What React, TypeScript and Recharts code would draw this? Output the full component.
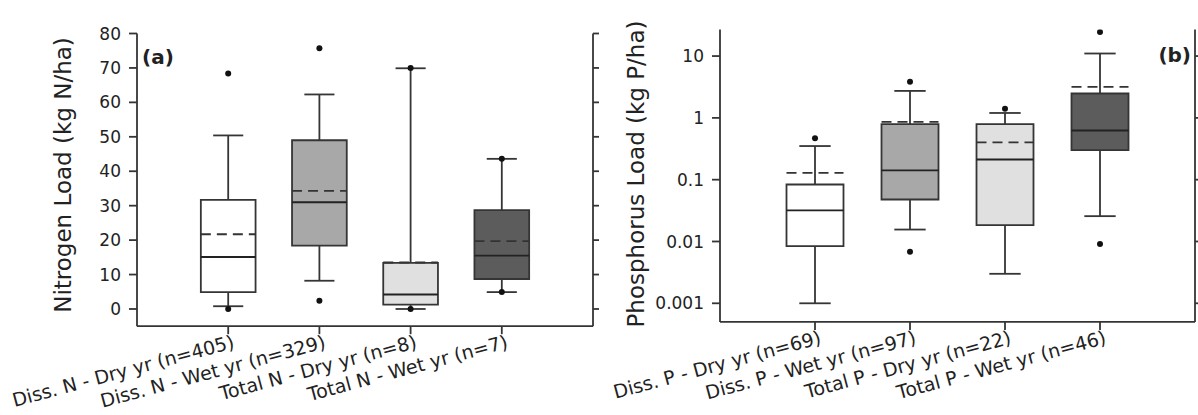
import React from 'react';
import {
  ScatterChart, Scatter, XAxis, YAxis, ReferenceArea, ReferenceLine,
} from 'recharts';

// Panel (a) nitrogen loads, kg N/ha
const nCategories = ['Diss. N - Dry yr (n=405)', 'Diss. N - Wet yr (n=329)', 'Total N - Dry yr (n=8)', 'Total N - Wet yr (n=7)'];
const nLow = [0.8, 8.2, 0, 4.9];
const nQ1 = [4.9, 18.4, 1.25, 8.7];
const nMedian = [15.1, 31.0, 4.2, 15.5];
const nMean = [21.7, 34.3, 13.5, 19.7];
const nQ3 = [31.7, 49.0, 13.4, 28.7];
const nHigh = [50.4, 62.3, 69.9, 43.6];
const nOutliers = [[68.4, 0], [75.7, 2.4], [70, 0], [43.6, 4.9]];
const nTicks = [0, 10, 20, 30, 40, 50, 60, 70, 80];

// Panel (b) phosphorus loads, kg P/ha
const pCategories = ['Diss. P - Dry yr (n=69)', 'Diss. P - Wet yr (n=97)', 'Total P - Dry yr (n=22)', 'Total P - Wet yr (n=46)'];
const pLow = [0.001, 0.0156, 0.003, 0.0257];
const pQ1 = [0.0084, 0.0478, 0.0184, 0.3];
const pMedian = [0.0318, 0.141, 0.212, 0.625];
const pMean = [0.129, 0.86, 0.4, 3.18];
const pQ3 = [0.0836, 0.79, 0.79, 2.48];
const pHigh = [0.35, 2.73, 1.2, 11.0];
const pOutliers = [[0.47], [3.83, 0.0068], [1.4], [24.6, 0.0091]];
const pTicks = [0.001, 0.01, 0.1, 1, 10];

const fills = ['#ffffff', '#a8a8a8', '#e0e0e0', '#5c5c5c'];
const INK = '#353535';
const FONT = 'DejaVu Sans';
const BOX = 0.3;   // half box width, in category units
const CAP = 0.165; // half whisker cap width
const SW = 1.8;

const CatTick = ({ x, y, payload, cats }: any) => {
  const label = cats[Math.round(payload.value) - 1];
  if (!label) return null;
  return (
    <text x={x + 4} y={y + 13} transform={`rotate(-15, ${x}, ${y})`} textAnchor="end"
      fontSize={19} fontFamily={FONT} fill="#222">{label}</text>
  );
};

const Panel = ({ cats, low, q1, med, mean, q3, high, outliers, ticks, domain, log, width, height, margin }: any) => {
  const points: { x: number; y: number }[] = [];
  outliers.forEach((vals: number[], i: number) => vals.forEach(v => points.push({ x: i + 1, y: v })));
  const yProps = log ? { scale: 'log' as const } : {};
  return (
    <ScatterChart width={width} height={height} margin={margin}>
      <XAxis dataKey="x" type="number" domain={[0, 5]} ticks={[1, 2, 3, 4]} interval={0}
        tickSize={8} tickMargin={2} stroke={INK} strokeWidth={SW} height={80}
        tick={<CatTick cats={cats} />} />
      <XAxis xAxisId="top" orientation="top" type="number" domain={[0, 5]} height={0}
        tick={false} tickLine={false} stroke={INK} strokeWidth={SW} />
      <YAxis dataKey="y" type="number" domain={domain} allowDataOverflow ticks={ticks} interval={0}
        {...yProps} width={60} tickSize={8} tickMargin={8} stroke={INK} strokeWidth={SW}
        tickFormatter={(v: number) => String(v)}
        tick={{ fontSize: 17, fill: '#222', fontFamily: FONT }} />
      <YAxis yAxisId="r" orientation="right" type="number" domain={domain} allowDataOverflow
        ticks={ticks} interval={0} {...yProps} width={7} tickSize={6} stroke={INK} strokeWidth={SW}
        tickFormatter={() => ''} />
      {cats.map((_: string, i: number) => {
        const c = i + 1;
        return (
          <React.Fragment key={i}>
            <ReferenceLine segment={[{ x: c, y: q3[i] }, { x: c, y: high[i] }]} stroke={INK} strokeWidth={SW} ifOverflow="visible" />
            <ReferenceLine segment={[{ x: c, y: low[i] }, { x: c, y: q1[i] }]} stroke={INK} strokeWidth={SW} ifOverflow="visible" />
            <ReferenceLine segment={[{ x: c - CAP, y: high[i] }, { x: c + CAP, y: high[i] }]} stroke={INK} strokeWidth={SW} ifOverflow="visible" />
            <ReferenceLine segment={[{ x: c - CAP, y: low[i] }, { x: c + CAP, y: low[i] }]} stroke={INK} strokeWidth={SW} ifOverflow="visible" />
            <ReferenceArea x1={c - BOX} x2={c + BOX} y1={q1[i]} y2={q3[i]} fill={fills[i]} fillOpacity={1}
              stroke={INK} strokeWidth={SW} ifOverflow="visible" />
            <ReferenceLine segment={[{ x: c - BOX, y: med[i] }, { x: c + BOX, y: med[i] }]} stroke="#222" strokeWidth={SW} ifOverflow="visible" />
            <ReferenceLine segment={[{ x: c - BOX, y: mean[i] }, { x: c + BOX, y: mean[i] }]} stroke="#333" strokeWidth={SW}
              strokeDasharray="10 6" ifOverflow="visible" />
          </React.Fragment>
        );
      })}
      <Scatter data={points} isAnimationActive={false}
        shape={(p: any) => <circle cx={p.cx} cy={p.cy} r={3} fill="#111" />} />
    </ScatterChart>
  );
};

export default function App() {
  return (
    <div style={{ position: 'absolute', left: 0, top: 0, width: 1198, height: 415, overflow: 'hidden', background: '#fff', fontFamily: FONT }}>
      <div style={{ position: 'absolute', left: 0, top: 0 }}>
        <Panel cats={nCategories} low={nLow} q1={nQ1} med={nMedian} mean={nMean} q3={nQ3} high={nHigh}
          outliers={nOutliers} ticks={nTicks} domain={[-5, 80]} log={false}
          width={600} height={415} margin={{ top: 33.5, right: 0, bottom: 8.8, left: 77 }} />
      </div>
      <div style={{ position: 'absolute', left: 596, top: 0 }}>
        <Panel cats={pCategories} low={pLow} q1={pQ1} med={pMedian} mean={pMean} q3={pQ3} high={pHigh}
          outliers={pOutliers} ticks={pTicks} domain={[0.0005, 27]} log
          width={610} height={415} margin={{ top: 29.4, right: 4, bottom: 13.1, left: 64 }} />
      </div>
      <svg width={1198} height={415} style={{ position: 'absolute', left: 0, top: 0, pointerEvents: 'none' }}>
        <text transform="translate(63,175) rotate(-90)" textAnchor="middle" dominantBaseline="central"
          fontSize={23} fontFamily={FONT} fill="#222">Nitrogen Load (kg N/ha)</text>
        <text transform="translate(636,174) rotate(-90)" textAnchor="middle" dominantBaseline="central"
          fontSize={23} fontFamily={FONT} fill="#222">Phosphorus Load (kg P/ha)</text>
        <text x={142} y={64} fontSize={20} fontWeight="bold" fontFamily={FONT} fill="#222">(a)</text>
        <text x={1191} y={62} textAnchor="end" fontSize={20} fontWeight="bold" fontFamily={FONT} fill="#222">(b)</text>
      </svg>
    </div>
  );
}
